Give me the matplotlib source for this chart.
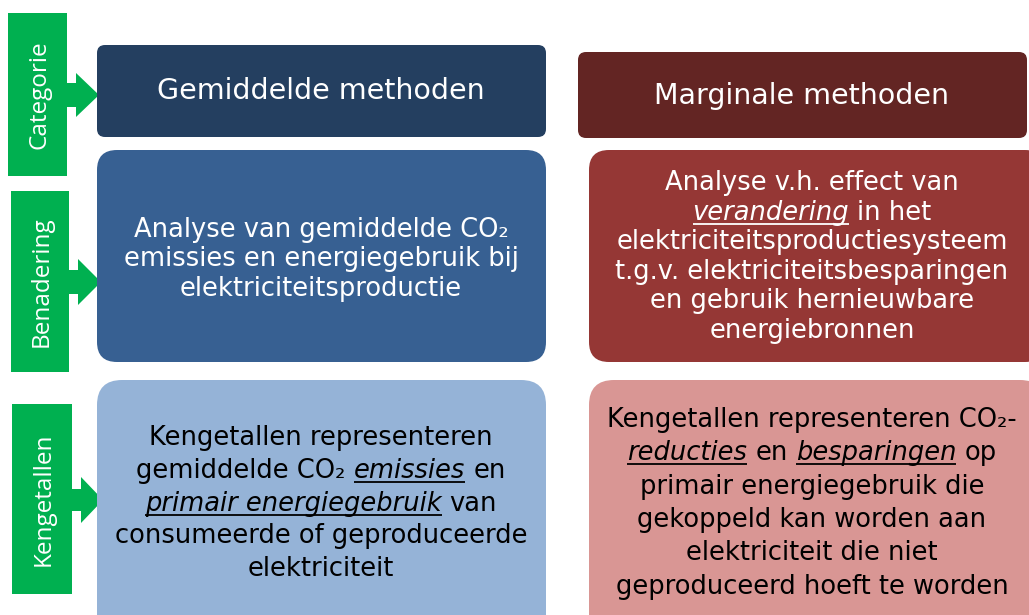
import matplotlib
matplotlib.use("Agg")
import matplotlib.pyplot as plt
from matplotlib.patches import FancyBboxPatch, Rectangle, Polygon

# row labels on the left (green bars)
row_labels = ["Categorie", "Benadering", "Kengetallen"]

# column headers
headers = ["Gemiddelde methoden", "Marginale methoden"]

# text lines per box: list of (text, style); 'n' = normal, 'iu' = italic + underline
avg_approach = [
    [("Analyse van gemiddelde CO₂", "n")],
    [("emissies en energiegebruik bij", "n")],
    [("elektriciteitsproductie", "n")],
]
marg_approach = [
    [("Analyse v.h. effect van", "n")],
    [("verandering", "iu"), (" in het", "n")],
    [("elektriciteitsproductiesysteem", "n")],
    [("t.g.v. elektriciteitsbesparingen", "n")],
    [("en gebruik hernieuwbare", "n")],
    [("energiebronnen", "n")],
]
avg_figures = [
    [("Kengetallen representeren", "n")],
    [("gemiddelde CO₂ ", "n"), ("emissies", "iu"), (" en", "n")],
    [("primair energiegebruik", "iu"), (" van", "n")],
    [("consumeerde of geproduceerde", "n")],
    [("elektriciteit", "n")],
]
marg_figures = [
    [("Kengetallen representeren CO₂-", "n")],
    [("reducties", "iu"), (" en ", "n"), ("besparingen", "iu"), (" op", "n")],
    [("primair energiegebruik die", "n")],
    [("gekoppeld kan worden aan", "n")],
    [("elektriciteit die niet", "n")],
    [("geproduceerd hoeft te worden", "n")],
]

GREEN = "#00b050"

fig = plt.figure(figsize=(10.29, 6.15), dpi=100)
ax = fig.add_axes([0, 0, 1, 1])
ax.set_xlim(0, 1029)
ax.set_ylim(615, 0)
ax.axis("off")
renderer = fig.canvas.get_renderer()


def text_width(s, size, italic):
    t = ax.text(0, 0, s, fontsize=size, style="italic" if italic else "normal")
    w = t.get_window_extent(renderer).width
    t.remove()
    return w


def rich_line(xc, yb, parts, size, color):
    space = text_width("a a", size, False) - text_width("aa", size, False)
    widths = []
    for s, st in parts:
        core = s.strip()
        lead = len(s) - len(s.lstrip())
        trail = len(s) - len(s.rstrip())
        widths.append((core, lead, trail, text_width(core, size, st == "iu")))
    total = sum(w + (l + t) * space for _, l, t, w in widths)
    x = xc - total / 2
    for (core, lead, trail, w), (_, st) in zip(widths, parts):
        x += lead * space
        ax.text(x, yb, core, fontsize=size, color=color, ha="left", va="baseline",
                style="italic" if st == "iu" else "normal")
        if st == "iu":
            ax.plot([x, x + w], [yb + 4, yb + 4], color=color, lw=1.3,
                    solid_capstyle="butt")
        x += w + trail * space


def box(x0, y0, x1, y1, color, r):
    p = FancyBboxPatch((x0, y0), x1 - x0, y1 - y0,
                       boxstyle=f"round,pad=0,rounding_size={r}",
                       fc=color, ec="none", clip_on=True)
    ax.add_patch(p)


def green_label(x0, y0, x1, y1, label, ay, shaft, head, tip):
    ax.add_patch(Rectangle((x0, y0), x1 - x0, y1 - y0, fc=GREEN, ec="none"))
    hx = x1 + 9
    ax.add_patch(Polygon([(x1 - 1, ay - shaft), (hx, ay - shaft), (hx, ay - head),
                          (tip, ay), (hx, ay + head), (hx, ay + shaft),
                          (x1 - 1, ay + shaft)], fc=GREEN, ec="none"))
    ax.text((x0 + x1) / 2 + 2, (y0 + y1) / 2, label, rotation=90, color="white",
            fontsize=17.5, family="Open Sans", ha="center", va="center")


# green row labels with arrows
green_label(8, 13, 67, 176, row_labels[0], 95, 12, 22, 99)
green_label(11, 191, 69, 372, row_labels[1], 282, 12, 23, 101)
green_label(12, 404, 72, 594, row_labels[2], 500, 11, 23, 103)

# header boxes
box(97, 45, 546, 137, "#243f60", 8)
box(578, 52, 1027, 138, "#632523", 8)
ax.text(321, 91, headers[0], color="white", fontsize=20.5, ha="center", va="center")
ax.text(802, 96, headers[1], color="white", fontsize=20.5, ha="center", va="center")

# approach boxes
box(97, 150, 546, 362, "#376092", 20)
box(589, 150, 1045, 362, "#953735", 20)
# figures boxes
box(97, 380, 546, 640, "#95b3d7", 25)
box(589, 380, 1045, 640, "#d99694", 25)

size = 18.5
for i, line in enumerate(avg_approach):
    rich_line(321, 237 + i * 29.5, line, size, "white")
for i, line in enumerate(marg_approach):
    rich_line(812, 190 + i * 29.6, line, size, "white")
for i, line in enumerate(avg_figures):
    rich_line(321, 445 + i * 32.8, line, size, "black")
for i, line in enumerate(marg_figures):
    rich_line(812, 427 + i * 33.3, line, size, "black")

fig.savefig("out.png", dpi=100)
